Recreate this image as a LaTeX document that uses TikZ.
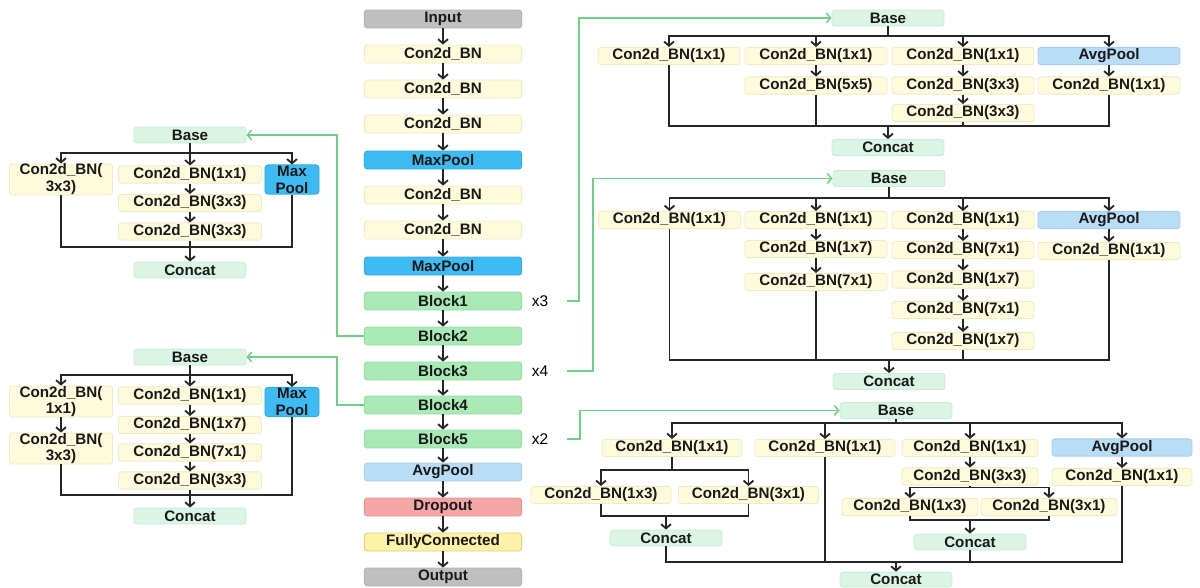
\documentclass[tikz,border=0pt]{standalone}
\usepackage{fontspec}
\setmainfont{Liberation Sans}
\usetikzlibrary{arrows.meta, positioning}

\definecolor{grayfill}{HTML}{BFBFBF}
\definecolor{grayedge}{HTML}{B3B3B3}
\definecolor{convfill}{HTML}{FEFADC}
\definecolor{convedge}{HTML}{F1EAC4}
\definecolor{maxfill}{HTML}{3EBBF2}
\definecolor{maxedge}{HTML}{35ABDF}
\definecolor{blockfill}{HTML}{A8E9B5}
\definecolor{blockedge}{HTML}{94DDA3}
\definecolor{avgfill}{HTML}{B9DCF7}
\definecolor{avgedge}{HTML}{A9D0EE}
\definecolor{dropfill}{HTML}{F5A5A5}
\definecolor{dropedge}{HTML}{E79494}
\definecolor{fcfill}{HTML}{FDF2A8}
\definecolor{fcedge}{HTML}{E3D26E}
\definecolor{basefill}{HTML}{DAF5E3}
\definecolor{baseedge}{HTML}{C8EDD5}
\definecolor{gline}{HTML}{6FCF87}

\begin{document}
\begin{tikzpicture}[
    x=0.025cm, y=-0.025cm,
    box/.style={rounded corners=2pt, inner sep=0pt, align=center, line width=0.6pt,
        minimum height=0.43cm, text=black!90, font=\bfseries\fontsize{10.8}{12}\selectfont},
    conv/.style={box, fill=convfill, draw=convedge},
    maxp/.style={box, fill=maxfill, draw=maxedge},
    avgp/.style={box, fill=avgfill, draw=avgedge},
    blk/.style={box, fill=blockfill, draw=blockedge},
    io/.style={box, fill=grayfill, draw=grayedge},
    cat/.style={box, fill=basefill, draw=baseedge, minimum width=2.8cm, minimum height=0.4cm},
    mainw/.style={minimum width=3.93cm, minimum height=0.45cm},
    lbl/.style={inner sep=0pt, font=\fontsize{11}{13}\selectfont},
    conn/.style={line width=1.3pt, black!85},
    arr/.style={conn, -{Straight Barb[length=3pt, width=7pt]}},
    garr/.style={line width=1.1pt, gline, -{Straight Barb[length=3pt, width=7pt]}}
]
    \useasboundingbox (0,0) rectangle (1200,587);

    % 主干网络
    \node[io, mainw] (in) at (443,19) {Input};
    \node[conv, mainw] (m1) at (443,54) {Con2d\_BN};
    \node[conv, mainw] (m2) at (443,89) {Con2d\_BN};
    \node[conv, mainw] (m3) at (443,124) {Con2d\_BN};
    \node[maxp, mainw] (mp1) at (443,160) {MaxPool};
    \node[conv, mainw] (m4) at (443,195) {Con2d\_BN};
    \node[conv, mainw] (m5) at (443,230) {Con2d\_BN};
    \node[maxp, mainw] (mp2) at (443,266) {MaxPool};
    \node[blk, mainw] (b1) at (443,301) {Block1};
    \node[blk, mainw] (b2) at (443,336) {Block2};
    \node[blk, mainw] (b3) at (443,371) {Block3};
    \node[blk, mainw] (b4) at (443,405) {Block4};
    \node[blk, mainw] (b5) at (443,439) {Block5};
    \node[avgp, mainw] (ap) at (443,472) {AvgPool};
    \node[box, mainw, fill=dropfill, draw=dropedge] (dr) at (443,507) {Dropout};
    \node[box, mainw, fill=fcfill, draw=fcedge] (fc) at (443,542) {FullyConnected};
    \node[io, mainw] (out) at (443,577) {Output};
    \foreach \a/\b in {in/m1, m1/m2, m2/m3, m3/mp1, mp1/m4, m4/m5, m5/mp2, mp2/b1,
        b1/b2, b2/b3, b3/b4, b4/b5, b5/ap, ap/dr, dr/fc, fc/out}
        \draw[arr] (\a) -- (\b);

    \node[lbl] (r1) at (540,301) {x3};
    \node[lbl] (r2) at (540,371) {x4};
    \node[lbl] (r3) at (540,439) {x2};

    % 左侧 Block2
    \begin{scope}[shift={(190,135)}]
        \node[cat] (lbase1) at (0,0) {Base};
        \coordinate (lsp1) at (0,18);
        \node[conv, minimum width=2.575cm, minimum height=0.73cm] (la1) at (-129,44.5) {Con2d\_BN(\\3x3)};
        \node[conv, minimum width=3.575cm] (la2) at (0,39.5) {Con2d\_BN(1x1)};
        \node[conv, minimum width=3.575cm] (la3) at (0,68) {Con2d\_BN(3x3)};
        \node[conv, minimum width=3.575cm] (la4) at (0,96.5) {Con2d\_BN(3x3)};
        \node[maxp, minimum width=1.35cm, minimum height=0.73cm] (la5) at (102,44.5) {Max\\Pool};
        \coordinate (ljn1) at (0,112);
        \node[cat] (lcat1) at (0,135) {Concat};
        \draw[arr] (lbase1) -- (la2);
        \draw[arr] (lsp1) -| (la1);
        \draw[arr] (lsp1) -| (la5);
        \draw[arr] (la2) -- (la3);
        \draw[arr] (la3) -- (la4);
        \draw[conn] (la1) |- (ljn1) -| (la5);
        \draw[arr] (la4) -- (lcat1);
    \end{scope}

    % 左侧 Block4
    \begin{scope}[shift={(190,357)}]
        \node[cat] (lbase2) at (0,0) {Base};
        \coordinate (lsp2) at (0,18);
        \node[conv, minimum width=2.575cm, minimum height=0.73cm] (lb1) at (-129,44.5) {Con2d\_BN(\\1x1)};
        \node[conv, minimum width=2.575cm, minimum height=0.73cm] (lb2) at (-129,91.5) {Con2d\_BN(\\3x3)};
        \node[conv, minimum width=3.575cm] (lb3) at (0,38.5) {Con2d\_BN(1x1)};
        \node[conv, minimum width=3.575cm] (lb4) at (0,68) {Con2d\_BN(1x7)};
        \node[conv, minimum width=3.575cm] (lb5) at (0,95.5) {Con2d\_BN(7x1)};
        \node[conv, minimum width=3.575cm] (lb6) at (0,123.5) {Con2d\_BN(3x3)};
        \node[maxp, minimum width=1.35cm, minimum height=0.73cm] (lb7) at (102,45) {Max\\Pool};
        \coordinate (ljn2) at (0,138);
        \node[cat] (lcat2) at (0,159) {Concat};
        \draw[arr] (lbase2) -- (lb3);
        \draw[arr] (lsp2) -| (lb1);
        \draw[arr] (lsp2) -| (lb7);
        \draw[arr] (lb1) -- (lb2);
        \draw[arr] (lb3) -- (lb4);
        \draw[arr] (lb4) -- (lb5);
        \draw[arr] (lb5) -- (lb6);
        \draw[conn] (lb2) |- (ljn2) -| (lb7);
        \draw[arr] (lb6) -- (lcat2);
    \end{scope}

    % 右侧 Block1
    \begin{scope}[shift={(888,18)}]
        \node[cat] (rbase1) at (0,0) {Base};
        \coordinate (rsp1) at (0,18);
        \node[conv, minimum width=3.55cm] (ra1) at (-219,38) {Con2d\_BN(1x1)};
        \node[conv, minimum width=3.55cm] (ra2) at (-72,38) {Con2d\_BN(1x1)};
        \node[conv, minimum width=3.55cm] (ra3) at (75,38) {Con2d\_BN(1x1)};
        \node[avgp, minimum width=3.55cm] (ra4) at (221,38) {AvgPool};
        \node[conv, minimum width=3.55cm] (ra5) at (-72,67.5) {Con2d\_BN(5x5)};
        \node[conv, minimum width=3.55cm] (ra6) at (75,67.5) {Con2d\_BN(3x3)};
        \node[conv, minimum width=3.55cm] (ra7) at (221,67.5) {Con2d\_BN(1x1)};
        \node[conv, minimum width=3.55cm] (ra8) at (75,95) {Con2d\_BN(3x3)};
        \coordinate (rjn1) at (0,108);
        \node[cat] (rcat1) at (0,129.5) {Concat};
        \draw[conn] (rbase1) -- (rsp1);
        \foreach \t in {ra1, ra2, ra3, ra4}
            \draw[arr] (rsp1) -| (\t);
        \draw[arr] (ra2) -- (ra5);
        \draw[arr] (ra3) -- (ra6);
        \draw[arr] (ra6) -- (ra8);
        \draw[arr] (ra4) -- (ra7);
        \draw[conn] (ra1) |- (rjn1) -| (ra7);
        \draw[conn] (ra5) |- (rjn1);
        \draw[conn] (ra8) |- (rjn1);
        \draw[arr] (rjn1) -- (rcat1);
    \end{scope}

    % 右侧 Block3
    \begin{scope}[shift={(889,178.5)}]
        \node[cat] (rbase2) at (0,0) {Base};
        \coordinate (rsp2) at (0,19.5);
        \node[conv, minimum width=3.55cm] (rb1) at (-219.5,41.5) {Con2d\_BN(1x1)};
        \node[conv, minimum width=3.55cm] (rb2) at (-73,41.5) {Con2d\_BN(1x1)};
        \node[conv, minimum width=3.55cm] (rb3) at (74,41.5) {Con2d\_BN(1x1)};
        \node[avgp, minimum width=3.55cm] (rb4) at (220,41.5) {AvgPool};
        \node[conv, minimum width=3.55cm] (rb5) at (-73,70.5) {Con2d\_BN(1x7)};
        \node[conv, minimum width=3.55cm] (rb6) at (-73,103.5) {Con2d\_BN(7x1)};
        \node[conv, minimum width=3.55cm] (rb7) at (74,71.5) {Con2d\_BN(7x1)};
        \node[conv, minimum width=3.55cm] (rb8) at (74,101) {Con2d\_BN(1x7)};
        \node[conv, minimum width=3.55cm] (rb9) at (74,131.5) {Con2d\_BN(7x1)};
        \node[conv, minimum width=3.55cm] (rb10) at (74,162.5) {Con2d\_BN(1x7)};
        \node[conv, minimum width=3.55cm] (rb11) at (220,72.5) {Con2d\_BN(1x1)};
        \coordinate (rjn2) at (0,181.5);
        \node[cat] (rcat2) at (0,203) {Concat};
        \draw[conn] (rbase2) -- (rsp2);
        \foreach \t in {rb1, rb2, rb3, rb4}
            \draw[arr] (rsp2) -| (\t);
        \draw[arr] (rb2) -- (rb5);
        \draw[arr] (rb5) -- (rb6);
        \draw[arr] (rb3) -- (rb7);
        \draw[arr] (rb7) -- (rb8);
        \draw[arr] (rb8) -- (rb9);
        \draw[arr] (rb9) -- (rb10);
        \draw[arr] (rb4) -- (rb11);
        \draw[conn] (rb1) |- (rjn2) -| (rb11);
        \draw[conn] (rb6) |- (rjn2);
        \draw[conn] (rb10) |- (rjn2);
        \draw[arr] (rjn2) -- (rcat2);
    \end{scope}

    % 右侧 Block5
    \begin{scope}[shift={(896,410.5)}]
        \node[cat] (rbase3) at (0,0) {Base};
        \coordinate (rsp3) at (0,12.5);
        \node[conv, minimum width=3.5cm] (rc1) at (-224,37.5) {Con2d\_BN(1x1)};
        \node[conv, minimum width=3.5cm] (rc2) at (-71,37.5) {Con2d\_BN(1x1)};
        \node[conv, minimum width=3.4cm] (rc3) at (74,37.5) {Con2d\_BN(1x1)};
        \node[avgp, minimum width=3.5cm] (rc4) at (226,37) {AvgPool};
        \coordinate (rsa) at (-224,59.5);
        \node[conv, minimum width=3.5cm] (rc5) at (-295,84.5) {Con2d\_BN(1x3)};
        \node[conv, minimum width=3.5cm] (rc6) at (-147.5,84.5) {Con2d\_BN(3x1)};
        \coordinate (rja) at (-230,105.5);
        \node[cat] (rcatA) at (-230,127.5) {Concat};
        \node[conv, minimum width=3.4cm] (rc7) at (74,66) {Con2d\_BN(3x3)};
        \coordinate (rsc) at (74,77);
        \node[conv, minimum width=3.4cm] (rc8) at (14,96.5) {Con2d\_BN(1x3)};
        \node[conv, minimum width=3.4cm] (rc9) at (153,96.5) {Con2d\_BN(3x1)};
        \coordinate (rjc) at (74,109.5);
        \node[cat] (rcatC) at (74,131.5) {Concat};
        \node[conv, minimum width=3.5cm] (rc10) at (226,66.5) {Con2d\_BN(1x1)};
        \coordinate (rjn3) at (0,151.5);
        \node[cat, minimum height=0.37cm] (rcat3) at (0,169) {Concat};
        \draw[conn] (rbase3) -- (rsp3);
        \foreach \t in {rc1, rc2, rc3, rc4}
            \draw[arr] (rsp3) -| (\t);
        \draw[conn] (rc1) -- (rsa);
        \draw[arr] (rsa) -| (rc5);
        \draw[arr] (rsa) -| (rc6);
        \draw[conn] (rc5) |- (rja) -| (rc6);
        \draw[arr] (rja) -- (rcatA);
        \draw[arr] (rc3) -- (rc7);
        \draw[conn] (rc7) -- (rsc);
        \draw[arr] (rsc) -| (rc8);
        \draw[arr] (rsc) -| (rc9);
        \draw[conn] (rc8) |- (rjc) -| (rc9);
        \draw[arr] (rjc) -- (rcatC);
        \draw[arr] (rc4) -- (rc10);
        \draw[conn] (rcatA) |- (rjn3) -| (rc10);
        \draw[conn] (rc2) |- (rjn3);
        \draw[conn] (rcatC) |- (rjn3);
        \draw[arr] (rjn3) -- (rcat3);
    \end{scope}

    % 绿色连接线
    \coordinate (g1) at (579,18);
    \coordinate (g2) at (593,178.5);
    \coordinate (g3) at (580,410.5);
    \coordinate (lg1) at (337,135);
    \coordinate (lg2) at (337,357);
    \draw[garr, shorten <=0.47cm] (r1.east) -| (g1) -- (rbase1);
    \draw[garr, shorten <=0.47cm] (r2.east) -| (g2) -- (rbase2);
    \draw[garr, shorten <=0.47cm] (r3.east) -| (g3) -- (rbase3);
    \draw[garr] (b2) -| (lg1) -- (lbase1);
    \draw[garr] (b4) -| (lg2) -- (lbase2);
\end{tikzpicture}
\end{document}
